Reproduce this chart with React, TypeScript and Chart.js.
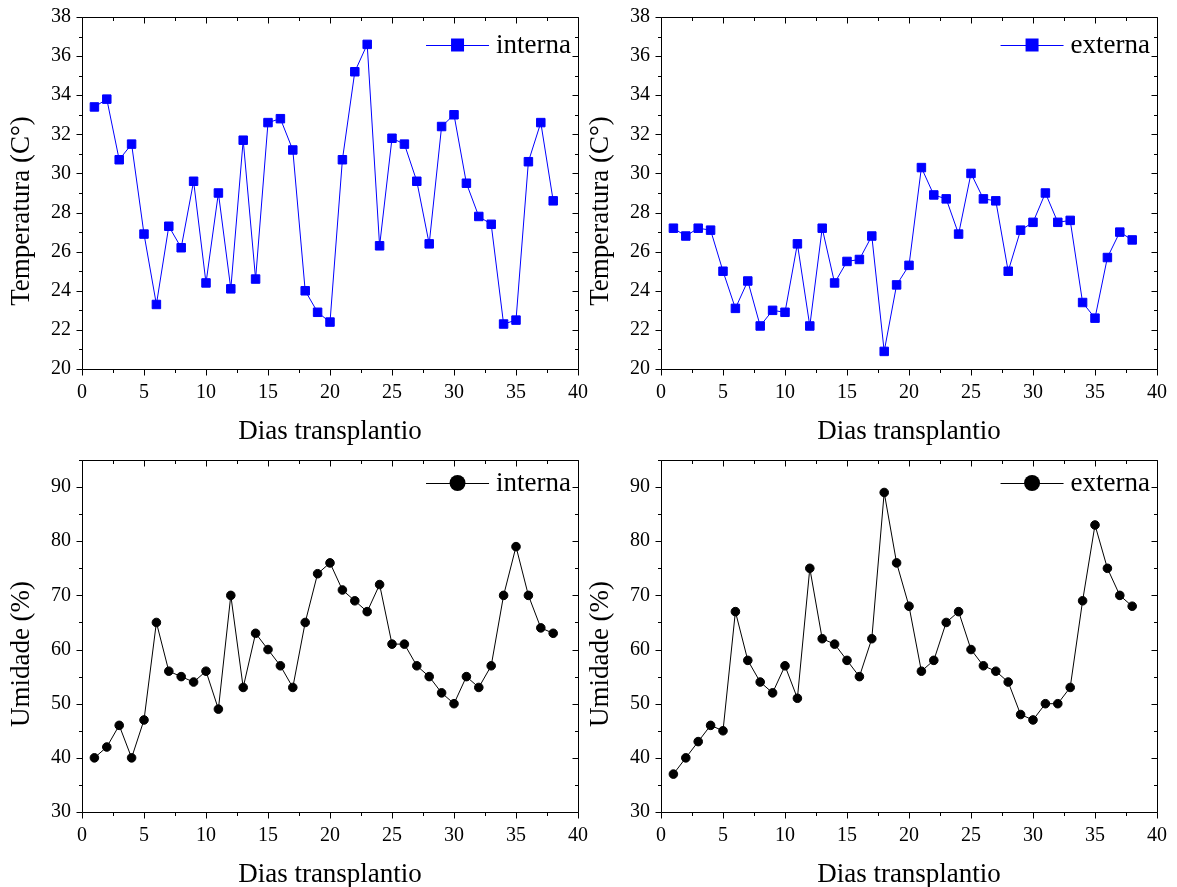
import React, { useEffect, useRef } from "react";
import { Chart, registerables } from "chart.js";

Chart.register(...registerables);

const dias = [
  1, 2, 3, 4, 5, 6, 7, 8, 9, 10, 11, 12, 13, 14, 15, 16, 17, 18, 19, 20,
  21, 22, 23, 24, 25, 26, 27, 28, 29, 30, 31, 32, 33, 34, 35, 36, 37, 38,
];

const tempInterna = [
  33.4, 33.8, 30.7, 31.5, 26.9, 23.3, 27.3, 26.2, 29.6, 24.4, 29.0, 24.1, 31.7,
  24.6, 32.6, 32.8, 31.2, 24.0, 22.9, 22.4, 30.7, 35.2, 36.6, 26.3, 31.8, 31.5,
  29.6, 26.4, 32.4, 33.0, 29.5, 27.8, 27.4, 22.3, 22.5, 30.6, 32.6, 28.6,
];

const tempExterna = [
  27.2, 26.8, 27.2, 27.1, 25.0, 23.1, 24.5, 22.2, 23.0, 22.9, 26.4, 22.2, 27.2,
  24.4, 25.5, 25.6, 26.8, 20.9, 24.3, 25.3, 30.3, 28.9, 28.7, 26.9, 30.0, 28.7,
  28.6, 25.0, 27.1, 27.5, 29.0, 27.5, 27.6, 23.4, 22.6, 25.7, 27.0, 26.6,
];

const umidInterna = [
  40, 42, 46, 40, 47, 65, 56, 55, 54, 56, 49, 70, 53, 63, 60, 57, 53, 65, 74,
  76, 71, 69, 67, 72, 61, 61, 57, 55, 52, 50, 55, 53, 57, 70, 79, 70, 64, 63,
];

const umidExterna = [
  37, 40, 43, 46, 45, 67, 58, 54, 52, 57, 51, 75, 62, 61, 58, 55, 62, 89, 76,
  68, 56, 58, 65, 67, 60, 57, 56, 54, 48, 47, 50, 50, 53, 69, 83, 75, 70, 68,
];

const xTicks = [0, 5, 10, 15, 20, 25, 30, 35, 40];
const tempTicks = [20, 22, 24, 26, 28, 30, 32, 34, 36, 38];
const umidTicks = [30, 40, 50, 60, 70, 80, 90];

const xTitle = "Dias transplantio";
const tempTitle = "Temperatura (C°)";
const umidTitle = "Umidade (%)";

const FONT = "'Liberation Serif', 'Times New Roman', Times, serif";

const framePlugin = {
  id: "frameTicks",
  afterDraw(chart: any, _args: any, opts: any) {
    const { ctx, chartArea: a, scales } = chart;
    const xs = scales.x;
    const ys = scales.y;
    const L = Math.round(a.left) + 0.5;
    const R = Math.round(a.right) + 0.5;
    const T = Math.round(a.top) + 0.5;
    const B = Math.round(a.bottom) + 0.5;
    ctx.save();
    ctx.strokeStyle = "#000";
    ctx.lineWidth = 1;
    ctx.beginPath();
    ctx.rect(L, T, R - L, B - T);
    ctx.stroke();
    const major = 6;
    const minor = 3.5;
    ctx.beginPath();
    const xMin = xs.min, xMax = xs.max;
    for (let v = xMin; v <= xMax + 1e-6; v += opts.xMinor) {
      const isMajor = Math.abs(v / opts.xMajor - Math.round(v / opts.xMajor)) < 1e-6;
      const len = isMajor ? major : minor;
      const px = Math.round(xs.getPixelForValue(v)) + 0.5;
      ctx.moveTo(px, B);
      ctx.lineTo(px, B + len);
      ctx.moveTo(px, T);
      ctx.lineTo(px, T + len);
    }
    const yMin = ys.min, yMax = ys.max;
    for (let v = yMin; v <= yMax + 1e-6; v += opts.yMinor) {
      const isMajor = Math.abs((v - yMin) / opts.yMajor - Math.round((v - yMin) / opts.yMajor)) < 1e-6;
      const len = isMajor ? major : minor;
      const py = Math.round(ys.getPixelForValue(v)) + 0.5;
      ctx.moveTo(L, py);
      ctx.lineTo(L - len, py);
      ctx.moveTo(R, py);
      ctx.lineTo(R - len, py);
    }
    ctx.stroke();
    ctx.restore();
  },
};

const titlesPlugin = {
  id: "axisTitles",
  afterDraw(chart: any, _args: any, opts: any) {
    const { ctx, chartArea: a } = chart;
    ctx.save();
    ctx.font = `27px ${FONT}`;
    ctx.fillStyle = "#000";
    ctx.textAlign = "center";
    ctx.textBaseline = "middle";
    ctx.fillText(opts.xText, (a.left + a.right) / 2, a.bottom + 63);
    ctx.translate(22, (a.top + a.bottom) / 2 + 18);
    ctx.rotate(-Math.PI / 2);
    ctx.fillText(opts.yText, 0, 0);
    ctx.restore();
  },
};

const legendPlugin = {
  id: "lineLegend",
  afterDraw(chart: any, _args: any, opts: any) {
    const { ctx, chartArea: a } = chart;
    const ds = chart.data.datasets[0];
    ctx.save();
    ctx.font = `27px ${FONT}`;
    ctx.fillStyle = "#000";
    ctx.textBaseline = "middle";
    ctx.textAlign = "right";
    const y = a.top + opts.dy;
    const textRight = a.right - 7;
    const tw = ctx.measureText(ds.label).width;
    ctx.fillText(ds.label, textRight, y + 1);
    const lineEnd = textRight - tw - 7;
    const lineStart = lineEnd - 63;
    ctx.strokeStyle = ds.borderColor;
    ctx.lineWidth = 1;
    ctx.beginPath();
    ctx.moveTo(lineStart, Math.round(y) + 0.5);
    ctx.lineTo(lineEnd, Math.round(y) + 0.5);
    ctx.stroke();
    const cx = (lineStart + lineEnd) / 2;
    ctx.fillStyle = ds.backgroundColor;
    ctx.beginPath();
    if (ds.pointStyle === "rect") {
      const s = opts.markerSize;
      ctx.rect(cx - s / 2, y - s / 2, s, s);
    } else {
      ctx.arc(cx, y, opts.markerSize / 2, 0, Math.PI * 2);
    }
    ctx.fill();
    ctx.restore();
  },
};

type PanelProps = {
  left: number;
  top: number;
  values: number[];
  label: string;
  color: string;
  pointStyle: string;
  radius: number;
  yMin: number;
  yMax: number;
  yTicks: number[];
  yMajor: number;
  yMinor: number;
  yTitle: string;
  legendDy: number;
  markerSize: number;
};

const W = 588;
const H = 450;

function zeroPad(s: any) {
  s.paddingLeft = 0;
  s.paddingRight = 0;
  s.paddingTop = 0;
  s.paddingBottom = 0;
}

function Panel(p: PanelProps) {
  const ref = useRef<HTMLCanvasElement>(null);
  useEffect(() => {
    const chart = new Chart(ref.current as HTMLCanvasElement, {
      type: "line",
      data: {
        datasets: [
          {
            label: p.label,
            data: dias.map((d, i) => ({ x: d, y: p.values[i] })),
            borderColor: p.color,
            backgroundColor: p.color,
            borderWidth: 1,
            pointStyle: p.pointStyle as any,
            pointRadius: p.radius,
            pointBorderWidth: 1,
            pointBorderColor: p.color,
            pointBackgroundColor: p.color,
            tension: 0,
          },
        ],
      },
      plugins: [framePlugin, titlesPlugin, legendPlugin],
      options: {
        animation: false,
        responsive: false,
        events: [],
        layout: { padding: { top: 17, right: 10, left: 0, bottom: 4 } },
        plugins: {
          legend: { display: false },
          tooltip: { enabled: false },
          frameTicks: { xMajor: 5, xMinor: 2.5, yMajor: p.yMajor, yMinor: p.yMinor },
          axisTitles: { xText: xTitle, yText: p.yTitle },
          lineLegend: { dy: p.legendDy, markerSize: p.markerSize },
        } as any,
        scales: {
          x: {
            type: "linear",
            min: 0,
            max: 40,
            afterBuildTicks: (s: any) => {
              s.ticks = xTicks.map((v) => ({ value: v }));
            },
            afterFit: (s: any) => {
              s.height = 77;
              zeroPad(s);
            },
            grid: { display: false, drawTicks: false, tickLength: 0 },
            border: { display: false },
            ticks: {
              color: "#000",
              font: { family: FONT, size: 20 },
              padding: 12,
              maxRotation: 0,
              autoSkip: false,
            },
            title: { display: false },
          },
          y: {
            type: "linear",
            min: p.yMin,
            max: p.yMax,
            afterBuildTicks: (s: any) => {
              s.ticks = p.yTicks.map((v) => ({ value: v }));
            },
            afterFit: (s: any) => {
              s.width = 82;
              zeroPad(s);
            },
            grid: { display: false, drawTicks: false, tickLength: 0 },
            border: { display: false },
            ticks: {
              color: "#000",
              font: { family: FONT, size: 20 },
              padding: 11,
              autoSkip: false,
            },
            title: { display: false },
          },
        },
      },
    });
    return () => chart.destroy();
  }, []);
  return (
    <canvas
      ref={ref}
      width={W}
      height={H}
      style={{ position: "absolute", left: p.left, top: p.top, width: W, height: H }}
    />
  );
}

export default function App() {
  return (
    <div
      style={{
        position: "absolute",
        left: 0,
        top: 0,
        width: 1177,
        height: 887,
        background: "#fff",
        overflow: "hidden",
      }}
    >
      <Panel
        left={0}
        top={0}
        values={tempInterna}
        label="interna"
        color="#0000ff"
        pointStyle="rect"
        radius={6}
        yMin={20}
        yMax={38}
        yTicks={tempTicks}
        yMajor={2}
        yMinor={1}
        yTitle={tempTitle}
        legendDy={28}
        markerSize={13}
      />
      <Panel
        left={579}
        top={0}
        values={tempExterna}
        label="externa"
        color="#0000ff"
        pointStyle="rect"
        radius={6}
        yMin={20}
        yMax={38}
        yTicks={tempTicks}
        yMajor={2}
        yMinor={1}
        yTitle={tempTitle}
        legendDy={28}
        markerSize={13}
      />
      <Panel
        left={0}
        top={443}
        values={umidInterna}
        label="interna"
        color="#000000"
        pointStyle="circle"
        radius={4.3}
        yMin={30}
        yMax={95}
        yTicks={umidTicks}
        yMajor={10}
        yMinor={5}
        yTitle={umidTitle}
        legendDy={23}
        markerSize={16}
      />
      <Panel
        left={579}
        top={443}
        values={umidExterna}
        label="externa"
        color="#000000"
        pointStyle="circle"
        radius={4.3}
        yMin={30}
        yMax={95}
        yTicks={umidTicks}
        yMajor={10}
        yMinor={5}
        yTitle={umidTitle}
        legendDy={23}
        markerSize={16}
      />
    </div>
  );
}
